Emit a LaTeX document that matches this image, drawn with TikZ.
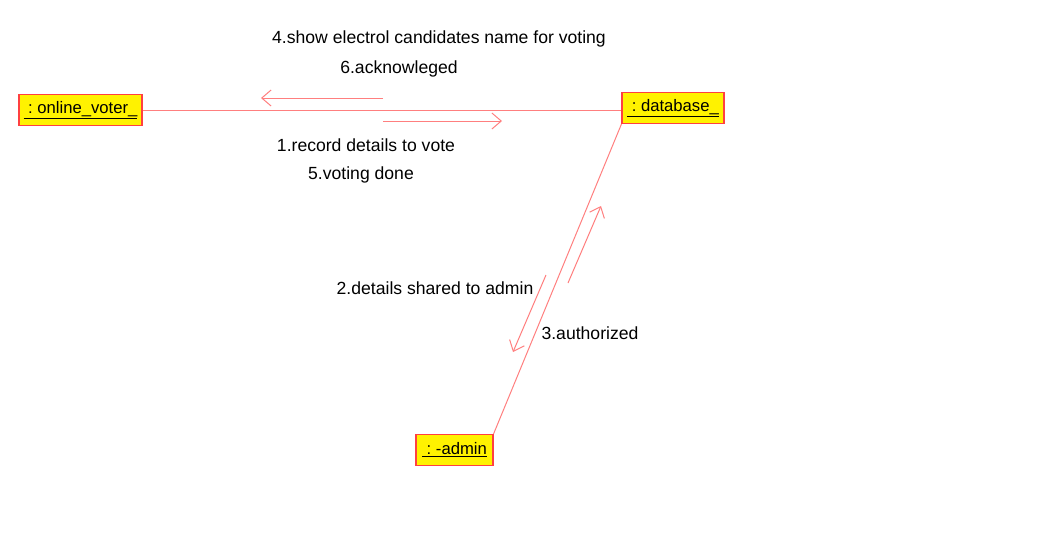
\documentclass[tikz,border=0pt]{standalone}
\usepackage{fontspec}
\setmainfont{Liberation Sans}
\usetikzlibrary{arrows.meta}
\definecolor{lnk}{HTML}{FF7F7F}
\definecolor{bx}{HTML}{FF4040}
\tikzset{
  obj/.style={draw=bx, fill=yellow, line width=0.8pt, inner sep=0pt, font=\fontsize{12.5}{14}\selectfont},
  link/.style={draw=lnk, line width=0.75pt},
  msg/.style={draw=lnk, line width=0.75pt, -{Straight Barb[length=7pt,width=12pt]}},
  lbl/.style={font=\fontsize{13.2}{15}\selectfont, inner sep=0pt}
}
\begin{document}
\begin{tikzpicture}[x=0.75pt,y=-0.75pt]
\useasboundingbox (0,0) rectangle (1058,544);
\node[obj, minimum width=123*0.75pt, minimum height=31*0.75pt] (voter) at (80.5,110) {\underline{\ :\ online\_voter\_}};
\node[obj, minimum width=102*0.75pt, minimum height=31*0.75pt] (db) at (673,108) {\underline{\ :\ database\_}};
\node[obj, minimum width=77*0.75pt, minimum height=31*0.75pt] (admin) at (454.5,450) {\underline{\ :\ -admin}};
\draw[link] (voter.east) -- (db.west |- voter.east);
\draw[link] (db.south west) -- (admin.north east);
\coordinate (a1s) at (383,98); \coordinate (a1e) at (261,98);
\coordinate (a2s) at (383,121); \coordinate (a2e) at (502,121);
\coordinate (a3s) at (546,275); \coordinate (a3e) at (513,352);
\coordinate (a4s) at (568,283); \coordinate (a4e) at (601,206);
\draw[msg] (a1s) -- (a1e);
\draw[msg] (a2s) -- (a2e);
\draw[msg] (a3s) -- (a3e);
\draw[msg] (a4s) -- (a4e);
\node[lbl] (l4) at (439,39) {4.show electrol candidates name for voting};
\node[lbl] (l6) at (399,69) {6.acknowleged};
\node[lbl] (l1) at (366,145) {1.record details to vote};
\node[lbl] (l5) at (361,175) {5.voting done};
\node[lbl] (l2) at (435,288) {2.details shared to admin};
\node[lbl] (l3) at (590,333) {3.authorized};
\end{tikzpicture}
\end{document}
